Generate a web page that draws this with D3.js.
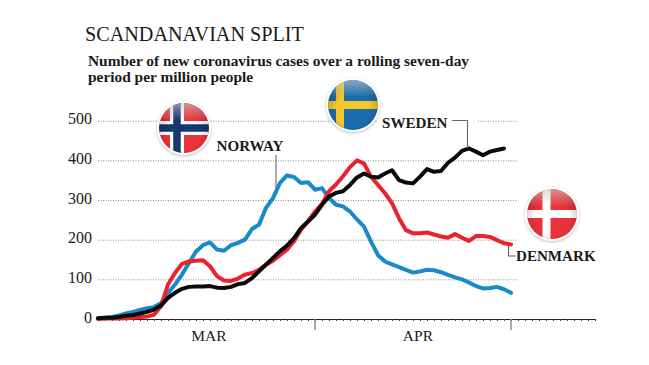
<!DOCTYPE html>
<html>
<head>
<meta charset="utf-8">
<script src="https://cdnjs.cloudflare.com/ajax/libs/d3/7.8.5/d3.min.js"></script>
<style>
  html, body { margin: 0; padding: 0; background: #fff; }
  svg { display: block; }
  text { font-family: "Liberation Serif", serif; fill: #1a1a1a; }
  .grid line { stroke: #8a8a8a; stroke-dasharray: 1 1.5; }
  .label { font-size: 15.1px; font-weight: bold; }
</style>
</head>
<body>
<div id="chart"></div>
<script>
// one value per day, starting at the end of february
var norway = [2,3,5,9,14,18,23,27,30,40,65,87,112,141,170,186,193,175,172,186,192,200,227,238,280,305,343,362,358,343,345,326,330,305,288,284,271,251,233,195,161,145,138,131,124,117,120,124,123,118,111,105,100,92,83,77,78,81,75,66]
var denmark = [0,1,1,1,2,3,5,6,11,32,87,116,139,145,147,148,133,108,97,96,102,112,116,124,137,147,161,175,196,225,246,271,290,322,339,360,383,400,392,359,338,317,292,254,224,216,216,218,213,208,205,214,205,197,209,209,207,199,191,188]
var sweden = [2,3,3,5,8,10,14,18,24,34,53,66,76,81,82,82,83,79,78,81,88,91,103,120,137,154,171,185,204,229,246,263,288,309,318,322,338,357,367,359,357,367,375,350,344,342,359,378,371,373,394,407,424,430,422,413,422,426,430]

var yTicks = [0, 100, 200, 300, 400, 500]
var monthTicks = [31, 59]
var monthLabels = [{name: "MAR", day: 15.85}, {name: "APR", day: 45.7}]
var lastDay = 71

var width = 649
var height = 365
var x0 = 98
var y0 = 319

var svg = d3.select("#chart").append("svg")
    .attr("width", width)
    .attr("height", height)

var xScale = d3.scaleLinear().domain([0, lastDay]).range([x0, 595])
var yScale = d3.scaleLinear().domain([0, 500]).range([y0, 120.7])

// titles
svg.append("text")
    .attr("x", 85).attr("y", 41)
    .style("font-size", "20.2px")
    .text("SCANDANAVIAN SPLIT")

svg.append("text")
    .attr("x", 88).attr("y", 65.5)
    .style("font-size", "15.4px").style("font-weight", "bold")
    .text("Number of new coronavirus cases over a rolling seven-day")

svg.append("text")
    .attr("x", 88).attr("y", 82)
    .style("font-size", "15.4px").style("font-weight", "bold")
    .text("period per million people")

// gridlines + y labels
var yAxis = svg.append("g")
    .attr("class", "grid")
    .attr("transform", "translate(" + x0 + ",0)")
    .call(d3.axisRight(yScale).tickValues(yTicks).tickSize(419).tickFormat(function(d) { return d }))
yAxis.select(".domain").remove()
yAxis.selectAll("text")
    .attr("x", -6)
    .attr("dy", "0.2em")
    .style("text-anchor", "end")
    .style("font-family", "'Liberation Serif', serif")
    .style("font-size", "16px")
yAxis.selectAll(".tick").filter(function(d) { return d == 0 }).select("line").remove()

// x axis, small tick for each day
var days = d3.range(0, lastDay + 1)
var xAxis = svg.append("g")
    .attr("transform", "translate(0," + y0 + ")")
    .call(d3.axisBottom(xScale).tickValues(days).tickSize(2).tickSizeOuter(0).tickFormat(""))
xAxis.select(".domain").attr("stroke", "#222")
xAxis.selectAll(".tick line").attr("stroke", "#444")

svg.append("g").selectAll("line")
    .data(monthTicks)
    .enter()
    .append("line")
    .attr("x1", function(d) { return xScale(d) })
    .attr("x2", function(d) { return xScale(d) })
    .attr("y1", y0)
    .attr("y2", y0 + 11)
    .attr("stroke", "#888")
    .attr("stroke-width", 1.4)

svg.append("g").selectAll("text")
    .data(monthLabels)
    .enter()
    .append("text")
    .attr("x", function(d) { return xScale(d.day) })
    .attr("y", 341)
    .style("text-anchor", "middle")
    .style("font-size", "15.5px")
    .text(function(d) { return d.name })

// white patch behind sweden label, it cuts the 500 gridline
svg.append("rect").attr("x", 378).attr("y", 110).attr("width", 100).attr("height", 20).attr("fill", "#fff")

// lines, blue first then red then black on top
var line = d3.line()
    .x(function(d, i) { return xScale(i) })
    .y(function(d) { return yScale(d) })

var series = [
  {values: norway, color: "#1a8ac6"},
  {values: denmark, color: "#e8232e"},
  {values: sweden, color: "#0a0a0a"}
]

svg.append("g").selectAll("path")
    .data(series)
    .enter()
    .append("path")
    .attr("d", function(d) { return line(d.values) })
    .attr("fill", "none")
    .attr("stroke", function(d) { return d.color })
    .attr("stroke-width", 4)
    .attr("stroke-linejoin", "round")
    .attr("stroke-linecap", "round")

// leader lines
function leader(points) {
  svg.append("path")
      .attr("d", d3.line()(points))
      .attr("fill", "none")
      .attr("stroke", "#666")
      .attr("stroke-width", 1.1)
}

leader([[452, 120.5], [467.5, 120.5], [467.5, 148]])
leader([[276, 155], [276, 188]])
leader([[508.5, 246], [508.5, 256], [516, 256]])

svg.append("text").attr("class", "label").attr("x", 216.5).attr("y", 151).text("NORWAY")
svg.append("text").attr("class", "label").attr("x", 382).attr("y", 128).text("SWEDEN")
svg.append("text").attr("class", "label").attr("x", 516).attr("y", 261).text("DENMARK")

// flags
var defs = svg.append("defs")
var shade = defs.append("radialGradient")
    .attr("id", "shade")
    .attr("cx", 0.5).attr("cy", 0.6).attr("r", 0.6)
shade.append("stop").attr("offset", "0.55").attr("stop-color", "#000").attr("stop-opacity", 0)
shade.append("stop").attr("offset", "1").attr("stop-color", "#000").attr("stop-opacity", 0.22)
var shine = defs.append("linearGradient")
    .attr("id", "shine")
    .attr("x1", 0).attr("y1", 0).attr("x2", 0).attr("y2", 1)
shine.append("stop").attr("offset", "0").attr("stop-color", "#fff").attr("stop-opacity", 0.5)
shine.append("stop").attr("offset", "0.35").attr("stop-color", "#fff").attr("stop-opacity", 0)

function drawFlag(id, cx, cy, field, crosses) {
  var r = 25
  defs.append("clipPath").attr("id", id)
      .append("circle").attr("r", r)
  var g = svg.append("g").attr("transform", "translate(" + cx + "," + cy + ")")
  g.append("circle").attr("r", r + 2).attr("fill", "#fff")
      .style("filter", "drop-shadow(0px 1px 1.5px rgba(0,0,0,0.25))")
  var f = g.append("g").attr("clip-path", "url(#" + id + ")")
  f.append("rect").attr("x", -r).attr("y", -r).attr("width", 2 * r).attr("height", 2 * r).attr("fill", field)
  crosses.forEach(function(c) {
    f.append("rect").attr("x", -r).attr("y", -c.w / 2).attr("width", 2 * r).attr("height", c.w).attr("fill", c.color)
    f.append("rect").attr("x", c.dx - c.w / 2).attr("y", -r).attr("width", c.w).attr("height", 2 * r).attr("fill", c.color)
  })
  f.append("circle").attr("r", r).attr("fill", "url(#shade)")
  f.append("circle").attr("r", r).attr("fill", "url(#shine)")
}

drawFlag("flag-no", 184, 128, "#e8333a", [{w: 14, color: "#fff", dx: -7}, {w: 7.5, color: "#16386e", dx: -7}])
drawFlag("flag-se", 353, 105, "#1a6cab", [{w: 8, color: "#f5c52c", dx: -13}])
drawFlag("flag-dk", 552, 214, "#e8333a", [{w: 8, color: "#fff", dx: -5.5}])
</script>
</body>
</html>
